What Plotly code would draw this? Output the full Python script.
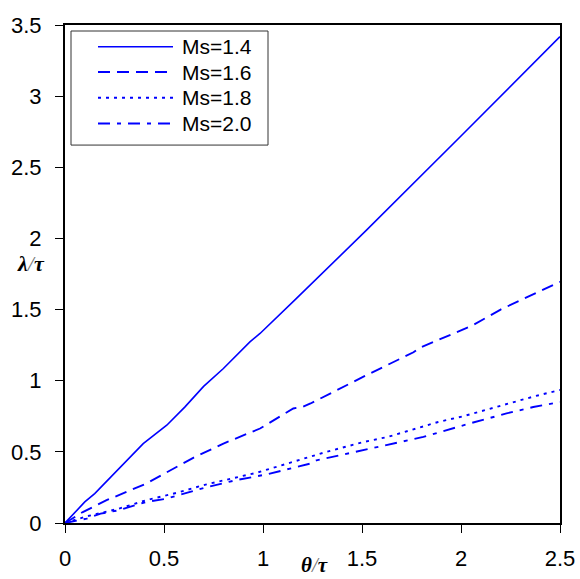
import plotly.graph_objects as go

# ---- data ----
x_ms14 = [0, 0.10, 0.15, 0.395, 0.514, 0.606, 0.70, 0.80, 0.934, 0.985, 1.16, 1.524, 2.0, 2.5]
y_ms14 = [0, 0.148, 0.207, 0.558, 0.687, 0.816, 0.96, 1.086, 1.273, 1.332, 1.566, 2.06, 2.72, 3.418]

x_ms16 = [0, 0.09, 0.21, 0.41, 0.65, 0.80, 0.985, 1.153, 1.20, 1.24, 1.51, 1.61, 1.76, 1.79, 2.06, 2.20, 2.37, 2.5]
y_ms16 = [0, 0.077, 0.16, 0.277, 0.46, 0.558, 0.664, 0.805, 0.816, 0.84, 1.03, 1.10, 1.20, 1.23, 1.39, 1.50, 1.61, 1.695]

x_ms18 = [0, 0.11, 0.27, 0.41, 0.57, 0.71, 0.97, 1.12, 1.32, 1.51, 1.63, 1.885, 2.01, 2.19, 2.37, 2.5]
y_ms18 = [0, 0.047, 0.10, 0.16, 0.214, 0.27, 0.354, 0.418, 0.50, 0.57, 0.605, 0.71, 0.75, 0.82, 0.89, 0.935]

x_ms20 = [0, 0.11, 0.18, 0.27, 0.41, 0.51, 0.70, 0.86, 1.02, 1.24, 1.27, 1.625, 1.81, 2.045, 2.23, 2.365, 2.5]
y_ms20 = [0, 0.031, 0.066, 0.089, 0.148, 0.17, 0.246, 0.30, 0.342, 0.418, 0.44, 0.55, 0.605, 0.70, 0.77, 0.815, 0.85]

series_names = ["Ms=1.4", "Ms=1.6", "Ms=1.8", "Ms=2.0"]
x_ticks = [0, 0.5, 1, 1.5, 2, 2.5]
x_tick_labels = ["0", "0.5", "1", "1.5", "2", "2.5"]
y_ticks = [0, 0.5, 1, 1.5, 2, 2.5, 3, 3.5]
y_tick_labels = ["0", "0.5", "1", "1.5", "2", "2.5", "3", "3.5"]

# ---- layout / style ----
W, H = 580, 579
PL, PR, PT, PB = 65, 560, 25, 522.7
BLUE = "#0000FF"
dashes = ["solid", "12px,7px", "3px,5px", "12px,7px,4px,7px"]
widths = [1.6, 1.9, 1.9, 1.9]
FONT = "Liberation Sans, Arial, sans-serif"


def px2paper(px, py):
    return (px - PL) / (PR - PL), (PB - py) / (PB - PT)


fig = go.Figure()
all_x = [x_ms14, x_ms16, x_ms18, x_ms20]
all_y = [y_ms14, y_ms16, y_ms18, y_ms20]
for name, xs, ys, d, w in zip(series_names, all_x, all_y, dashes, widths):
    fig.add_trace(go.Scatter(x=xs, y=ys, mode="lines", name=name,
                             line=dict(color=BLUE, width=w, dash=d),
                             showlegend=False))

shapes = []
annotations = []
# manual legend box
bx0, by0 = px2paper(71, 145)
bx1, by1 = px2paper(268, 31)
shapes.append(dict(type="rect", xref="paper", yref="paper", x0=bx0, y0=by0, x1=bx1, y1=by1,
                   line=dict(color="#333333", width=1), fillcolor="white", layer="above"))
row_y = [46.7, 72.0, 97.7, 123.5]
for name, d, w, ry in zip(series_names, dashes, widths, row_y):
    lx0, ly = px2paper(98, ry)
    lx1, _ = px2paper(173, ry)
    shapes.append(dict(type="line", xref="paper", yref="paper", x0=lx0, x1=lx1, y0=ly, y1=ly,
                       line=dict(color=BLUE, width=w, dash=d), layer="above"))
    tx, _ = px2paper(180, ry)
    annotations.append(dict(xref="paper", yref="paper", x=tx, y=ly, text=name, showarrow=False,
                            xanchor="left", yanchor="middle",
                            font=dict(family=FONT, size=21, color="black")))

# axis titles
ax_, ay_ = px2paper(31, 263)
annotations.append(dict(xref="paper", yref="paper", x=ax_, y=ay_, showarrow=False,
                        xanchor="center", yanchor="middle",
                        text="<i><b>λ</b><span style='color:#777777'>/</span><b>τ</b></i>",
                        font=dict(family="Liberation Serif, DejaVu Serif, serif", size=22, color="black")))
tx_, ty_ = px2paper(314, 565)
annotations.append(dict(xref="paper", yref="paper", x=tx_, y=ty_, showarrow=False,
                        xanchor="center", yanchor="middle",
                        text="<i><b>θ</b><span style='color:#777777'>/</span><b>τ</b></i>",
                        font=dict(family="Liberation Serif, DejaVu Serif, serif", size=21, color="black")))

fig.update_layout(
    width=W, height=H,
    margin=dict(l=PL, r=W - PR, t=PT, b=H - PB, pad=0, autoexpand=False),
    paper_bgcolor="white", plot_bgcolor="white",
    shapes=shapes, annotations=annotations,
    showlegend=False,
    font=dict(family=FONT, size=22, color="black"),
)
fig.update_xaxes(range=[0, 2.5], tickvals=x_ticks, ticktext=x_tick_labels,
                 ticks="outside", ticklen=8, tickwidth=1, tickcolor="black",
                 showline=True, linecolor="black", linewidth=2, mirror=True,
                 showgrid=False, zeroline=False, ticklabelstandoff=7, automargin=False,
                 tickfont=dict(family=FONT, size=22, color="black"))
fig.update_yaxes(range=[0, 3.5], tickvals=y_ticks, ticktext=y_tick_labels,
                 ticks="outside", ticklen=8, tickwidth=1, tickcolor="black",
                 showline=True, linecolor="black", linewidth=2, mirror=True,
                 showgrid=False, zeroline=False, ticklabelstandoff=9, automargin=False,
                 tickfont=dict(family=FONT, size=22, color="black"))

fig.write_html("out.html",
               config={"displayModeBar": False},
               post_script="document.body.style.margin='0';document.body.style.padding='0';"
                           "document.documentElement.style.overflow='hidden';")
